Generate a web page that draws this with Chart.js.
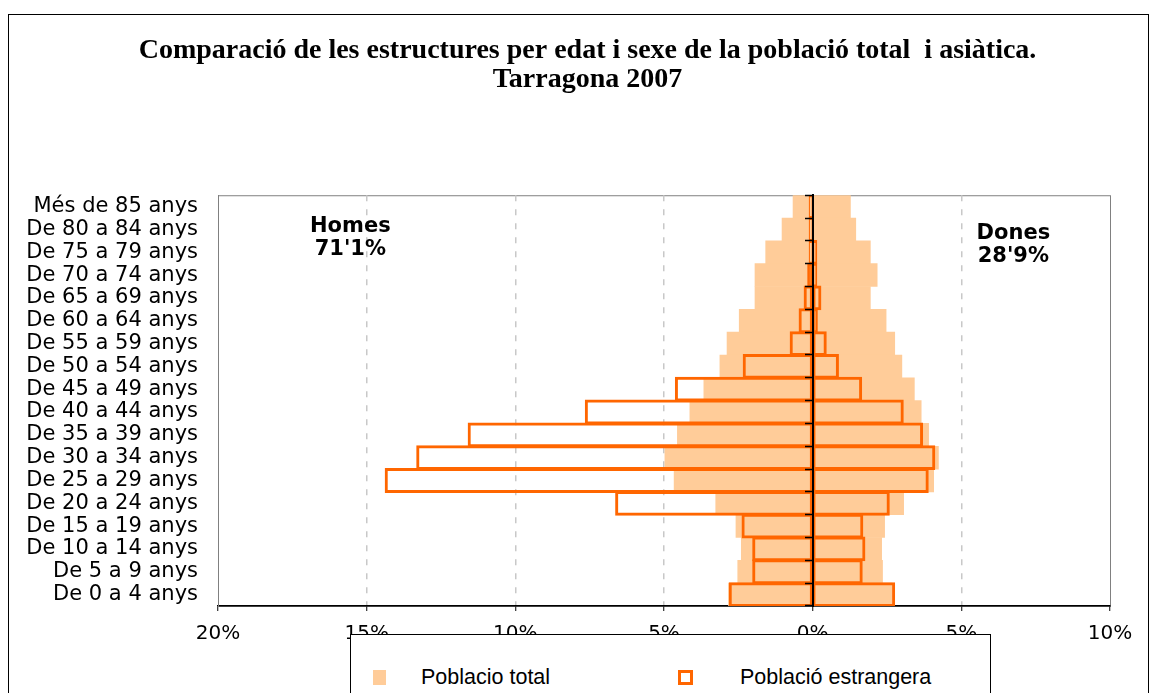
<!DOCTYPE html>
<html>
<head>
<meta charset="utf-8">
<script src="https://cdn.jsdelivr.net/npm/chart.js@4.4.1/dist/chart.umd.min.js"></script>
<style>
  html, body { margin: 0; padding: 0; background: #fff; overflow: hidden; }
  #wrap { position: relative; width: 1154px; height: 693px; overflow: hidden; }
  #frame { position: absolute; left: 8px; top: 14px; width: 1141px; height: 720px; border: 1.5px solid #000; box-sizing: border-box; }
  #chart { position: absolute; left: 0; top: 0; }
  #legend { position: absolute; left: 350px; top: 634px; width: 641px; height: 90px; border: 1.5px solid #000; background: #fff; box-sizing: border-box;
            font-family: "Liberation Sans", Arial, sans-serif; font-size: 21.5px; color: #000; }
  .item { position: absolute; top: 35px; height: 15px; display: flex; align-items: center; white-space: nowrap; }
  .sw { box-sizing: border-box; flex: none; }
</style>
</head>
<body>
<div id="wrap">
  <div id="frame"></div>
  <canvas id="chart" width="1154" height="693"></canvas>
  <div id="legend"></div>
</div>
<script>
// age groups, top to bottom
const ages = ['Més de 85 anys', 'De 80 a 84 anys', 'De 75 a 79 anys', 'De 70 a 74 anys',
  'De 65 a 69 anys', 'De 60 a 64 anys', 'De 55 a 59 anys', 'De 50 a 54 anys',
  'De 45 a 49 anys', 'De 40 a 44 anys', 'De 35 a 39 anys', 'De 30 a 34 anys',
  'De 25 a 29 anys', 'De 20 a 24 anys', 'De 15 a 19 anys', 'De 10 a 14 anys',
  'De 5 a 9 anys', 'De 0 a 4 anys'];

// % of population, same order as ages
const totalMen = [0.66, 1.03, 1.58, 1.94, 1.94, 2.47, 2.88, 3.12, 3.66, 4.13,
  4.55, 4.97, 4.66, 3.26, 2.58, 2.40, 2.52, 2.83];
const totalWomen = [1.27, 1.45, 1.94, 2.17, 1.94, 2.47, 2.76, 3.00, 3.42, 3.65,
  3.90, 4.23, 4.07, 3.06, 2.42, 2.32, 2.35, 2.67];
const foreignMen = [0.10, 0.10, 0.10, 0.15, 0.27, 0.44, 0.74, 2.32, 4.60, 7.63,
  11.57, 13.30, 14.36, 6.61, 2.36, 2.00, 2.00, 2.79];
const foreignWomen = [0.00, 0.00, 0.12, 0.12, 0.26, 0.14, 0.44, 0.85, 1.63, 3.03,
  3.68, 4.09, 3.87, 2.56, 1.67, 1.74, 1.65, 2.74];

const xTicks = [-20, -15, -10, -5, 0, 5, 10];
const titleLines = ['Comparació de les estructures per edat i sexe de la població total  i asiàtica.', 'Tarragona 2007'];
const menText = ['Homes', "71'1%"];
const womenText = ['Dones', "28'9%"];
const seriesNames = ['Poblacio total', 'Població estrangera'];

const fillColor = '#FFCC99';
const lineColor = '#FF6600';

const sexLabels = {
  id: 'sexLabels',
  beforeDraw(chart) {
    const {ctx, chartArea: a} = chart;
    ctx.save();
    ctx.strokeStyle = '#808080';
    ctx.lineWidth = 1;
    ctx.strokeRect(a.left + 0.5, a.top + 0.5, a.right - a.left, a.bottom - a.top);
    ctx.restore();
  },
  afterDatasetsDraw(chart) {
    const {ctx, chartArea: a, scales: {x}} = chart;
    ctx.save();
    ctx.font = 'bold 21px "DejaVu Sans"';
    ctx.fillStyle = '#000';
    ctx.textAlign = 'center';
    ctx.textBaseline = 'middle';
    ctx.fillText(menText[0], x.getPixelForValue(-15.55), a.top + 31);
    ctx.fillText(menText[1], x.getPixelForValue(-15.55), a.top + 54);
    ctx.fillText(womenText[0], x.getPixelForValue(6.75), a.top + 38);
    ctx.fillText(womenText[1], x.getPixelForValue(6.75), a.top + 61);
    ctx.restore();
  }
};

const outline = {
  backgroundColor: 'rgba(0,0,0,0)',
  borderColor: lineColor,
  borderWidth: 1,
  inflateAmount: 1,
  borderSkipped: false,
  grouped: false,
  barPercentage: 1,
  categoryPercentage: 1,
  order: 0
};
const filled = {
  backgroundColor: fillColor,
  borderWidth: 0,
  grouped: false,
  barPercentage: 1,
  categoryPercentage: 1,
  order: 1
};

const chart = new Chart(document.getElementById('chart'), {
  type: 'bar',
  data: {
    labels: ages,
    datasets: [
      Object.assign({label: seriesNames[1], data: foreignMen.map(v => -v)}, outline),
      Object.assign({label: seriesNames[1], data: foreignWomen}, outline),
      Object.assign({label: seriesNames[0], data: totalMen.map(v => -v)}, filled),
      Object.assign({label: seriesNames[0], data: totalWomen}, filled)
    ]
  },
  options: {
    indexAxis: 'y',
    responsive: false,
    animation: false,
    events: [],
    // right side is negative so the title centre sits where the original one does;
    // the empty y3 axis on the right gives the plot its right margin back
    layout: { padding: { left: 8, right: -13, top: 0, bottom: 36 } },
    plugins: {
      legend: { display: false },
      tooltip: { enabled: false },
      title: {
        display: true,
        text: titleLines,
        color: '#000',
        font: { family: '"Liberation Serif", "Times New Roman", serif', size: 28, weight: 'bold', lineHeight: 1.04 },
        padding: { top: 36, bottom: 101 }
      }
    },
    scales: {
      x: {
        type: 'linear',
        min: -20,
        max: 10,
        afterBuildTicks: s => { s.ticks = xTicks.map(v => ({value: v})); },
        ticks: {
          callback: v => Math.abs(v) + '%',
          color: '#000',
          font: { family: '"DejaVu Sans", Verdana, sans-serif', size: 20 },
          padding: 11,
          maxRotation: 0
        },
        grid: {
          color: c => (c.tick && c.tick.value > -20 && c.tick.value < 10 && c.tick.value !== 0) ? '#c8c8c8' : 'rgba(0,0,0,0)',
          lineWidth: 1.5,
          tickLength: 5,
          tickColor: '#000',
          tickWidth: 1
        },
        border: { color: '#000', width: 1.5, dash: [6, 8] }
      },
      y: {
        type: 'category',
        position: 'left',
        offset: true,
        grid: { display: false },
        border: { color: '#808080', width: 1 },
        ticks: {
          color: '#000',
          autoSkip: false,
          font: { family: '"DejaVu Sans", Verdana, sans-serif', size: 21 },
          padding: 12
        },
        afterFit: s => { s.width = 210; }
      },
      y3: {
        type: 'category',
        axis: 'y',
        position: 'right',
        ticks: { display: false },
        grid: { display: false },
        border: { display: false },
        afterFit: s => { s.width = 57; }
      },
      y2: {
        type: 'category',
        axis: 'y',
        position: { x: 0 },
        offset: true,
        ticks: { display: false },
        grid: { display: true, offset: true, drawOnChartArea: false, drawTicks: true, tickLength: 7, tickColor: '#000', tickWidth: 1.5, z: 1 },
        border: { color: '#000', width: 2, z: 1 }
      }
    }
  },
  plugins: [sexLabels]
});

// legend built from the dataset styles
const legend = document.getElementById('legend');
const legendItems = [
  { text: seriesNames[0], left: 22, sw: { width: 13, bg: fillColor, border: 'none' }, gap: 35 },
  { text: seriesNames[1], left: 327, sw: { width: 15, bg: '#fff', border: '3.5px solid ' + lineColor }, gap: 47 }
];
legendItems.forEach(it => {
  const d = document.createElement('div');
  d.className = 'item';
  d.style.left = it.left + 'px';
  const s = document.createElement('span');
  s.className = 'sw';
  s.style.width = it.sw.width + 'px';
  s.style.height = '15px';
  s.style.background = it.sw.bg;
  s.style.border = it.sw.border;
  s.style.marginRight = it.gap + 'px';
  d.appendChild(s);
  const t = document.createElement('span');
  t.textContent = it.text;
  d.appendChild(t);
  legend.appendChild(d);
});
</script>
</body>
</html>
